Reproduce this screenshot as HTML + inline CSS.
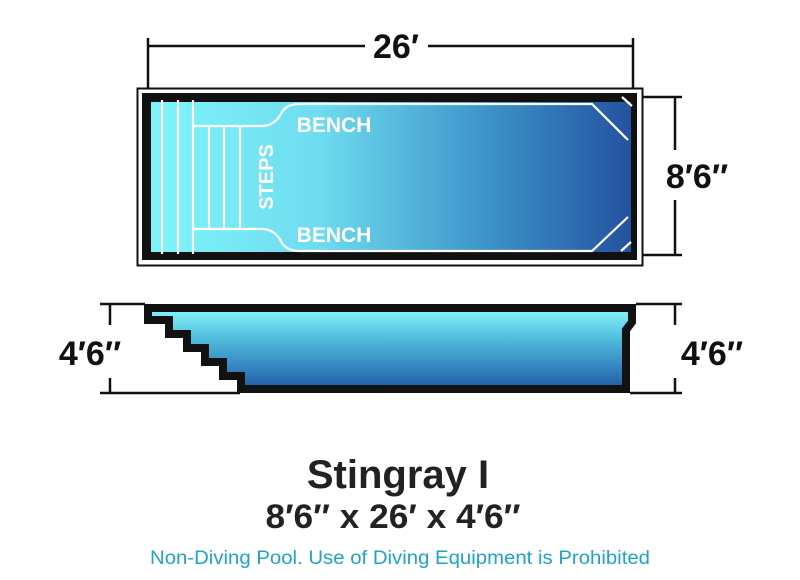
<!DOCTYPE html>
<html><head><meta charset="utf-8"><style>
body{margin:0;background:#fff;width:800px;height:580px;overflow:hidden}
svg{display:block}
text{font-family:"Liberation Sans",sans-serif}
</style></head><body>
<svg width="800" height="580" viewBox="0 0 800 580">
<defs>
<linearGradient id="h" x1="0" x2="1" y1="0" y2="0">
<stop offset="0" stop-color="#80f4fa"/><stop offset="0.35" stop-color="#6edcef"/><stop offset="0.7" stop-color="#3d93c9"/><stop offset="1" stop-color="#2452a0"/></linearGradient>
<linearGradient id="v" x1="0" x2="0" y1="0" y2="1">
<stop offset="0" stop-color="#86f6fb"/><stop offset="0.4" stop-color="#4fb9dc"/><stop offset="1" stop-color="#1f5ca6"/></linearGradient>
</defs>
<g stroke="#111" stroke-width="2.5" fill="none">
<line x1="148" y1="38" x2="148" y2="90"/><line x1="633" y1="38" x2="633" y2="90"/>
<line x1="148" y1="46" x2="365" y2="46"/><line x1="428" y1="46" x2="633" y2="46"/>
<line x1="642" y1="97" x2="682" y2="97"/><line x1="642" y1="255" x2="682" y2="255"/>
<line x1="675" y1="97" x2="675" y2="150"/><line x1="675" y1="200" x2="675" y2="255"/>
<line x1="100" y1="304" x2="145" y2="304"/><line x1="100" y1="393" x2="240" y2="393"/>
<line x1="110" y1="304" x2="110" y2="325"/><line x1="110" y1="378" x2="110" y2="393"/>
<line x1="636" y1="304" x2="682" y2="304"/><line x1="630" y1="393" x2="682" y2="393"/>
<line x1="675" y1="304" x2="675" y2="325"/><line x1="675" y1="378" x2="675" y2="393"/>
</g>
<text x="396" y="58" font-size="34" font-weight="bold" text-anchor="middle" fill="#111">26′</text>
<text x="697" y="188" font-size="34" font-weight="bold" text-anchor="middle" fill="#111">8′6″</text>
<text x="90" y="365" font-size="34" font-weight="bold" text-anchor="middle" fill="#111">4′6″</text>
<text x="712" y="365" font-size="34" font-weight="bold" text-anchor="middle" fill="#111">4′6″</text>
<rect x="137.5" y="88.5" width="505" height="177" fill="#fff" stroke="#111" stroke-width="2"/>
<rect x="142" y="93" width="495" height="167" fill="#111"/>
<rect x="151" y="102" width="480" height="150" fill="url(#h)"/>
<g stroke="#fff" stroke-width="2.2" fill="none">
<line x1="162" y1="100" x2="162" y2="254"/><line x1="178" y1="100" x2="178" y2="254"/><line x1="193" y1="100" x2="193" y2="254"/>
<line x1="209" y1="126" x2="209" y2="229"/><line x1="224" y1="126" x2="224" y2="229"/><line x1="240" y1="126" x2="240" y2="229"/>
<path d="M193 126 H262 Q275 126 282 112 Q287 104 300 104 H592 L628 140"/>
<path d="M193 229 H262 Q275 229 282 243 Q287 251 300 251 H592 L628 217"/>
<line x1="622" y1="97" x2="632" y2="106"/><line x1="621" y1="251" x2="631" y2="242"/>
</g>
<text x="334" y="132" font-size="21" font-weight="bold" fill="#fff" text-anchor="middle">BENCH</text>
<text x="334" y="242" font-size="21" font-weight="bold" fill="#fff" text-anchor="middle">BENCH</text>
<text transform="translate(273,177) rotate(-90)" font-size="20" font-weight="bold" fill="#fff" text-anchor="middle">STEPS</text>
<path d="M148 308 H632 V322 L626 330 V389 H241 V376 H223 V362 H205 V348 H187 V334 H169 V320 H148 Z" fill="url(#v)" stroke="#111" stroke-width="8" stroke-linejoin="miter"/>
<text x="398" y="488" font-size="40" font-weight="bold" text-anchor="middle" fill="#222">Stingray I</text>
<text x="393" y="528" font-size="34" font-weight="bold" text-anchor="middle" fill="#222" textLength="255" lengthAdjust="spacingAndGlyphs">8′6″ x 26′ x 4′6″</text>
<text x="400" y="564" font-size="19.5" text-anchor="middle" fill="#1fa3c9" textLength="500" lengthAdjust="spacingAndGlyphs">Non-Diving Pool. Use of Diving Equipment is Prohibited</text>
</svg>
</body></html>
